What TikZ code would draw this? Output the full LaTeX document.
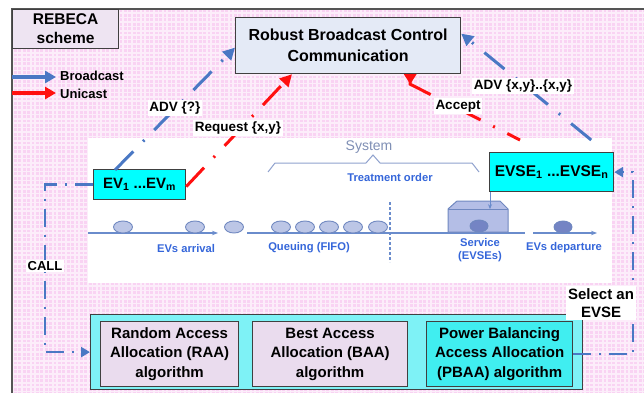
\documentclass[tikz,border=0pt]{standalone}
\usepackage{fontspec}
\setmainfont{Liberation Sans}
\usetikzlibrary{arrows.meta,calc}
\definecolor{bgpink}{HTML}{F9D3F3}
\definecolor{framegray}{HTML}{555555}
\definecolor{boxedge}{HTML}{404040}
\definecolor{lavender}{HTML}{EEE4F2}
\definecolor{ctrlfill}{HTML}{E4EAF6}
\definecolor{evcyan}{HTML}{00FFFF}
\definecolor{algocyan}{HTML}{7EF2F6}
\definecolor{pbaacyan}{HTML}{40EEF0}
\definecolor{algolav}{HTML}{EADCEE}
\definecolor{bblue}{HTML}{4A78C4}
\definecolor{rred}{HTML}{FF1010}
\definecolor{sysline}{HTML}{6A8CCC}
\definecolor{systext}{HTML}{3566DA}
\definecolor{bracec}{HTML}{90A2CE}
\definecolor{systitlec}{HTML}{7F8FB5}
\definecolor{carfill}{HTML}{BCC6E6}
\definecolor{caredge}{HTML}{7088C0}
\definecolor{svcfill}{HTML}{B4BEE6}
\definecolor{svcdark}{HTML}{7484C4}
\begin{document}
\begin{tikzpicture}[x=1pt,y=-1pt,
  box/.style={draw=boxedge, line width=1.2pt, anchor=north west, inner sep=0pt, align=center},
  evbox/.style={box, fill=evcyan, font=\fontsize{15}{18}\selectfont\bfseries},
  algbox/.style={box, fill=algolav, font=\fontsize{15}{19.5}\selectfont\bfseries},
  lbl/.style={fill=white, inner sep=1.5pt, font=\fontsize{13.5}{16}\selectfont\bfseries},
  syslbl/.style={text=systext, inner sep=0pt, align=center, font=\fontsize{11.2}{13.5}\selectfont\bfseries},
  bline/.style={draw=bblue, line width=3pt, dash pattern=on 26pt off 14pt on 2pt off 14pt},
  rline/.style={draw=rred, line width=3pt, dash pattern=on 26pt off 14pt on 2pt off 14pt},
  callline/.style={draw=bblue, line width=2.5pt, dash pattern=on 18pt off 8pt on 2pt off 8pt},
  bigtip/.style={-{Triangle[length=12pt,width=12pt]}},
  baseline/.style={draw=sysline, line width=1.4pt},
  car/.style={draw=caredge, fill=carfill, line width=0.9pt},
  darkcar/.style={draw=caredge, fill=svcdark, line width=0.9pt}]
\useasboundingbox (0,0) rectangle (644,393);
\fill[white] (0,0) rectangle (644,393);

% pink gridded sheet
\fill[bgpink] (12,9) rectangle (644,393);
\begin{scope}
  \clip (12,9) rectangle (644,393);
  \draw[white, opacity=.6, line width=1.5pt, step=4.4pt] (12,9) grid (644,393);
\end{scope}
\draw[framegray, line width=1.5pt] (12,393) -- (12,9) -- (644,9);

% queueing system panel
\fill[white] (88,138) rectangle (612,283);
\node[text=systitlec, font=\fontsize{14}{16}\selectfont, inner sep=0pt] (systitle) at (369,147) {System};
\draw[bracec, line width=1pt] (268,172) -- (275,163) -- (366,163) -- (373,155) -- (380,163) -- (472,163) -- (479,172);
\node[syslbl] (order) at (390,177) {Treatment order};
\draw[baseline, -{Stealth[length=6pt,width=4.5pt]}] (88,233) -- (218,233);
\draw[baseline] (247,233) -- (525,233);
\draw[baseline, -{Stealth[length=6pt,width=4.5pt]}] (533,233) -- (597,233);
\foreach \cx in {123,195,234,281,305,329,353,378}
  \draw[car] (\cx,227) ellipse [x radius=9.5pt, y radius=6pt];
\draw[sysline, line width=1.2pt, dash pattern=on 3pt off 2pt] (390,202) -- (390,262);
\draw[caredge, fill=svcfill, line width=1pt] (448,232) -- (448,209) -- (457,201) -- (500,201) -- (508,209) -- (508,232) -- cycle;
\draw[caredge, line width=1pt] (448,209) -- (508,209);
\draw[darkcar] (479,226) ellipse [x radius=9pt, y radius=6pt];
\draw[darkcar] (563,227) ellipse [x radius=9pt, y radius=6pt];
\node[syslbl] (arrival) at (186,248) {EVs arrival};
\node[syslbl] (queue) at (309,248) {Queuing (FIFO)};
\node[syslbl] (service) at (480,250) {Service\\(EVSEs)};
\node[syslbl] (depart) at (564,248) {EVs departure};

% boxes
\node[box, fill=lavender, minimum width=106pt, minimum height=39pt,
      font=\fontsize{15.5}{19}\selectfont\bfseries] (title) at (12,9) {REBECA\\scheme};
\node[box, fill=ctrlfill, minimum width=225pt, minimum height=56pt,
      font=\fontsize{16}{21}\selectfont\bfseries] (rbcc) at (235,17) {Robust Broadcast Control\\Communication};
\node[evbox, minimum width=92pt, minimum height=30pt] (ev) at (93,169) {EV\textsubscript{1} ...EV\textsubscript{m}};
\node[evbox, minimum width=124pt, minimum height=39pt, font=\fontsize{15.5}{18}\selectfont\bfseries] (evse) at (489,152) {EVSE\textsubscript{1} ...EVSE\textsubscript{n}};
\node[box, fill=algocyan, minimum width=492pt, minimum height=75pt] (algo) at (90,314) {};
\node[algbox, minimum width=138pt, minimum height=65pt] (raa) at (100,321) {Random Access\\Allocation (RAA)\\algorithm};
\node[algbox, minimum width=155pt, minimum height=65pt] (baa) at (252,321) {Best Access\\Allocation (BAA)\\algorithm};
\node[algbox, fill=pbaacyan, minimum width=146pt, minimum height=65pt] (pbaa) at (426,321) {Power Balancing\\Access Allocation\\(PBAA) algorithm};

% EVSE feeds the service stage
\draw[sysline, line width=1pt, -{Stealth[length=5pt,width=4pt]}] ([xshift=1pt]evse.south west) -- ++(0,17);

% legend
\coordinate (lb0) at (12,77);
\coordinate (lb1) at (56,77);
\coordinate (lu0) at (12,93);
\coordinate (lu1) at (56,93);
\draw[bblue, line width=3.5pt, -{Triangle[length=11pt,width=12pt]}] (lb0) -- (lb1);
\draw[rred, line width=3.5pt, -{Triangle[length=11pt,width=12pt]}] (lu0) -- (lu1);
\node[anchor=west, inner sep=0pt, font=\fontsize{13}{15}\selectfont\bfseries] (lbt) at (60,76) {Broadcast};
\node[anchor=west, inner sep=0pt, font=\fontsize{13}{15}\selectfont\bfseries] (lut) at (60,94) {Unicast};

% messages between vehicles, chargers and the control channel
\draw[bline, bigtip] ([xshift=22pt,yshift=-1pt]ev.north west) -- ([yshift=-2pt]rbcc.west);
\draw[rline, bigtip] ([yshift=-2pt]ev.east) -- ([xshift=57pt]rbcc.south west);
\draw[bline, bigtip] ([xshift=-23pt,yshift=12pt]evse.north east) -- ([yshift=12pt]rbcc.east);
\draw[rline, {Triangle[reversed,length=10pt,width=12pt]}-] ([xshift=-51pt]rbcc.south east) -- ++(0,10) -- ([xshift=31pt,yshift=12pt]evse.north west);

\node[lbl] (advq) at (175,108) {ADV \{?\}};
\node[lbl] (req) at (238,128) {Request \{x,y\}};
\node[lbl] (acc) at (458,106) {Accept};
\node[lbl] (advxy) at (523,86) {ADV \{x,y\}..\{x,y\}};

% allocation loop
\draw[callline, -{Triangle[length=9pt,width=10pt]}] (ev.west) -- ++(-48,0) |- (algo.west);
\draw[callline, -{Triangle[length=9pt,width=10pt]}] (pbaa.east) -- ++(60,0) |- (evse.east);
\node[lbl, font=\fontsize{13}{15}\selectfont\bfseries] (call) at (45,266) {CALL};
\node[lbl, inner sep=2pt, font=\fontsize{15}{18}\selectfont\bfseries, align=center] (sel) at (601,303) {Select an\\EVSE};
\end{tikzpicture}
\end{document}
